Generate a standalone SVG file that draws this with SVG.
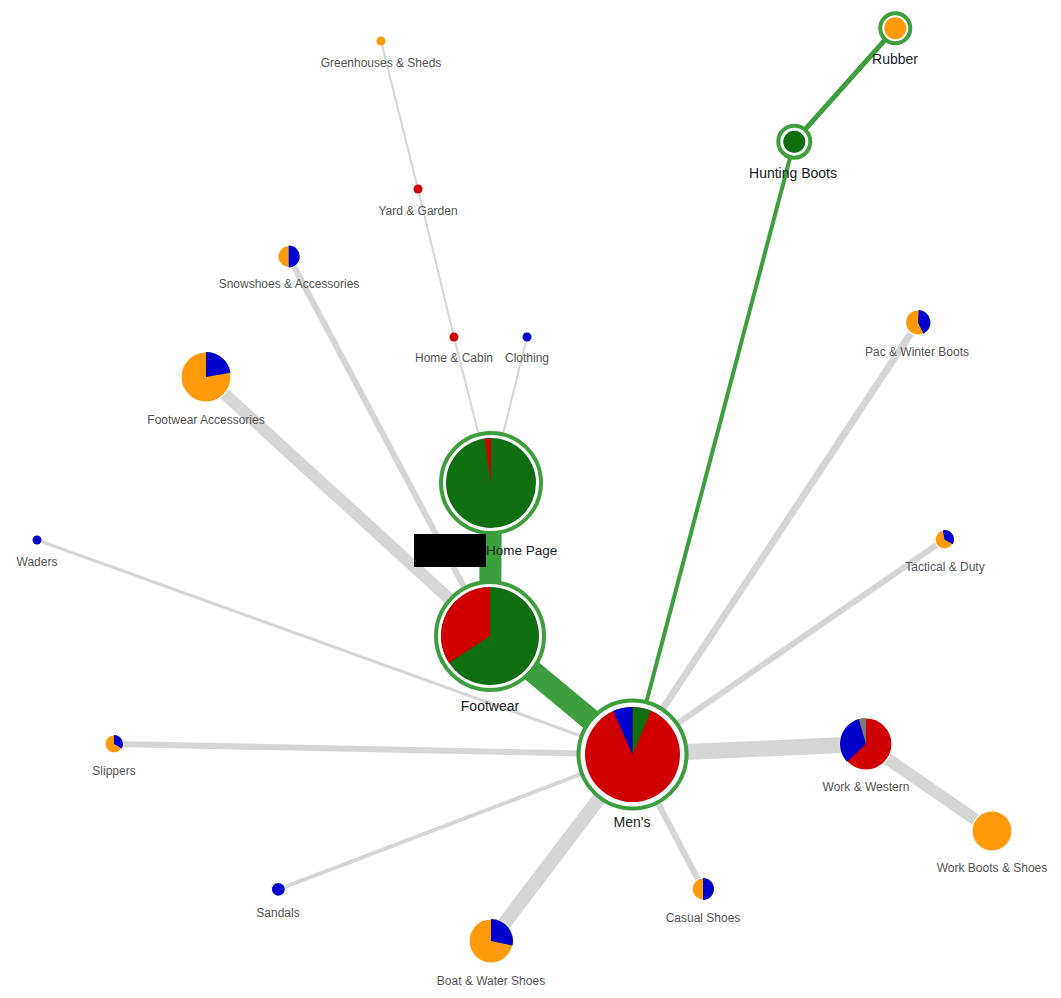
<svg xmlns="http://www.w3.org/2000/svg" width="1061" height="998" viewBox="0 0 1061 998">
<style>
.e{stroke:#d6d6d6;stroke-linecap:butt;fill:none}
.g{stroke:#3c9e3c;fill:none}
.ring{fill:#fff;stroke:#3c9e3c;stroke-width:4}
.pie{stroke:#fff;stroke-width:1.2}
.o{fill:#ff9a0a}.r{fill:#d00000}.b{fill:#0000cc}.dg{fill:#0f6e0f}.gr{fill:#7a7a7a}
.s{font-family:"Liberation Sans",Arial,sans-serif;font-size:12px;fill:#555;text-anchor:middle}
.m{font-family:"Liberation Sans",Arial,sans-serif;font-size:14px;fill:#222;text-anchor:middle}
</style>
<rect width="1061" height="998" fill="#fff"/>
<g id="connectors">
<line class="e" stroke-width="2" x1="381" y1="41" x2="418" y2="189"/>
<line class="e" stroke-width="2" x1="418" y1="189" x2="454" y2="337"/>
<line class="e" stroke-width="2" x1="454" y1="337" x2="491" y2="483"/>
<line class="e" stroke-width="2" x1="527" y1="337" x2="491" y2="483"/>
<line class="e" stroke-width="6" x1="288.7" y1="256.5" x2="490" y2="636"/>
<line class="e" stroke-width="12" x1="206" y1="377" x2="490" y2="636"/>
<line class="e" stroke-width="3" x1="37" y1="540" x2="632.5" y2="754.5"/>
<line class="e" stroke-width="6" x1="114" y1="744" x2="632.5" y2="754.5"/>
<line class="e" stroke-width="4" x1="278.3" y1="889.3" x2="632.5" y2="754.5"/>
<line class="e" stroke-width="14" x1="491" y1="941" x2="632.5" y2="754.5"/>
<line class="e" stroke-width="6" x1="703" y1="889" x2="632.5" y2="754.5"/>
<line class="e" stroke-width="16" x1="866" y1="744" x2="632.5" y2="754.5"/>
<line class="e" stroke-width="12" x1="992" y1="831" x2="866" y2="744"/>
<line class="e" stroke-width="6" x1="944.5" y1="539.5" x2="632.5" y2="754.5"/>
<line class="e" stroke-width="7" x1="918" y1="322.5" x2="632.5" y2="754.5"/>
<line class="g" stroke-width="22" x1="491" y1="483" x2="490" y2="636"/>
<line class="g" stroke-width="22" x1="490" y1="636" x2="632.5" y2="754.5"/>
<line class="g" stroke-width="4" x1="632.5" y1="754.5" x2="794.3" y2="141.7"/>
<line class="g" stroke-width="5" x1="794.3" y1="141.7" x2="895.3" y2="28.3"/>
</g>
<g id="home-page">
<circle class="ring" cx="491" cy="483" r="50"/>
<circle class="dg" cx="491" cy="483" r="45"/>
<path class="r" d="M491,483 L484.74,438.44 A45,45 0 0,1 491,438 Z"/>
<rect x="414" y="534" width="72" height="33" fill="#000"/>
<text class="m" x="486" y="555" style="text-anchor:start;font-size:13.5px">Home Page</text>
</g>
<g id="footwear">
<circle class="ring" cx="490" cy="636" r="54"/>
<circle class="dg" cx="490" cy="636" r="49"/>
<path class="r" d="M490,636 L448.9,662.69 A49,49 0 0,1 490,587 Z"/>
<text class="m" x="490" y="711">Footwear</text>
</g>
<g id="mens">
<circle class="ring" cx="632.5" cy="754.5" r="54"/>
<circle class="r" cx="632.5" cy="754.5" r="47.5"/>
<path class="dg" d="M632.5,754.5 L632.5,707 A47.5,47.5 0 0,1 651.06,710.78 Z"/>
<path class="b" d="M632.5,754.5 L613.18,711.11 A47.5,47.5 0 0,1 632.5,707 Z"/>
<text class="m" x="632" y="827">Men's</text>
</g>
<g id="hunting-boots">
<circle class="ring" cx="794.3" cy="141.7" r="16"/>
<circle class="dg" cx="794.3" cy="141.7" r="11"/>
<text class="m" x="793" y="178">Hunting Boots</text>
</g>
<g id="rubber">
<circle class="ring" cx="895.3" cy="28.3" r="15"/>
<circle class="o" cx="895.3" cy="28.3" r="11"/>
<text class="m" x="895" y="64">Rubber</text>
</g>
<g id="greenhouses-sheds">
<circle class="o" cx="381" cy="41" r="4.5"/>
<text class="s" x="381" y="67">Greenhouses &amp; Sheds</text>
</g>
<g id="yard-garden">
<circle class="r" cx="418" cy="189" r="4.5"/>
<text class="s" x="418" y="215">Yard &amp; Garden</text>
</g>
<g id="home-cabin">
<circle class="r" cx="454" cy="337" r="4.5"/>
<text class="s" x="454" y="362">Home &amp; Cabin</text>
</g>
<g id="clothing">
<circle class="b" cx="527" cy="337" r="4.5"/>
<text class="s" x="527" y="362">Clothing</text>
</g>
<g id="snowshoes-accessories">
<circle class="o pie" cx="288.7" cy="256.5" r="11"/>
<path class="b" d="M288.7,256.5 L288.7,245.5 A11,11 0 0,1 288.7,267.5 Z"/>
<text class="s" x="289" y="288">Snowshoes &amp; Accessories</text>
</g>
<g id="footwear-accessories">
<circle class="o pie" cx="206" cy="377" r="25"/>
<path class="b" d="M206,377 L206,352 A25,25 0 0,1 230.62,372.66 Z"/>
<text class="s" x="206" y="424">Footwear Accessories</text>
</g>
<g id="waders">
<circle class="b" cx="37" cy="540" r="4.5"/>
<text class="s" x="37" y="566">Waders</text>
</g>
<g id="slippers">
<circle class="o pie" cx="114" cy="744" r="9"/>
<path class="b" d="M114,744 L114,735 A9,9 0 0,1 121.79,748.5 Z"/>
<text class="s" x="114" y="775">Slippers</text>
</g>
<g id="sandals">
<circle class="b pie" cx="278.3" cy="889.3" r="7"/>
<text class="s" x="278" y="917">Sandals</text>
</g>
<g id="boat-water-shoes">
<circle class="o pie" cx="491" cy="941" r="22"/>
<path class="b" d="M491,941 L491,919 A22,22 0 0,1 512.52,945.57 Z"/>
<text class="s" x="491" y="985">Boat &amp; Water Shoes</text>
</g>
<g id="casual-shoes">
<circle class="o pie" cx="703" cy="889" r="11"/>
<path class="b" d="M703,889 L703,878 A11,11 0 0,1 703,900 Z"/>
<text class="s" x="703" y="922">Casual Shoes</text>
</g>
<g id="work-western">
<circle class="r pie" cx="866" cy="744" r="26"/>
<path class="b" d="M866,744 L846.98,761.73 A26,26 0 0,1 858.83,719.01 Z"/>
<path class="gr" d="M866,744 L858.83,719.01 A26,26 0 0,1 866,718 Z"/>
<text class="s" x="866" y="791">Work &amp; Western</text>
</g>
<g id="work-boots-shoes">
<circle class="o pie" cx="992" cy="831" r="20"/>
<text class="s" x="992" y="872">Work Boots &amp; Shoes</text>
</g>
<g id="tactical-duty">
<circle class="o pie" cx="944.5" cy="539.5" r="9.5"/>
<path class="b" d="M944.5,539.5 L942.85,530.14 A9.5,9.5 0 0,1 952.73,544.25 Z"/>
<text class="s" x="945" y="571">Tactical &amp; Duty</text>
</g>
<g id="pac-winter-boots">
<circle class="o pie" cx="918" cy="322.5" r="12.5"/>
<path class="b" d="M918,322.5 L918.65,310.02 A12.5,12.5 0 0,1 923.48,333.74 Z"/>
<text class="s" x="917" y="356">Pac &amp; Winter Boots</text>
</g>
</svg>
